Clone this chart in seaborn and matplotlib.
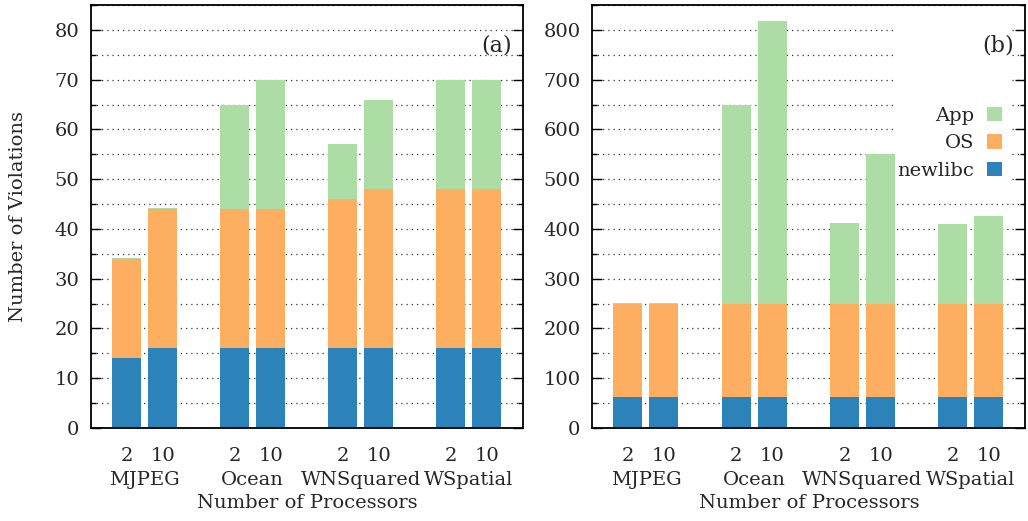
import numpy as np
import pandas as pd
import matplotlib
matplotlib.use("Agg")
import matplotlib.pyplot as plt
import matplotlib.transforms as mtransforms
from matplotlib.patches import Patch, Rectangle
from matplotlib.ticker import MultipleLocator
import seaborn as sns

# ---------------- data ----------------
benchmarks = ["MJPEG", "Ocean", "WNSquared", "WSpatial"]
procs = ["2", "10"]
series = ["newlibc", "OS", "App"]
colors = {"newlibc": "#2b83ba", "OS": "#fdae61", "App": "#abdda4"}

# panel (a): one value per bar (benchmark x processors, in order)
a_newlibc = [14, 16, 16, 16, 16, 16, 16, 16]
a_os = [20, 28, 28, 28, 30, 32, 32, 32]
a_app = [0.2, 0.2, 21, 26, 11, 18, 22, 22]

# panel (b)
b_newlibc = [62, 62, 62, 62, 62, 62, 62, 62]
b_os = [188, 188, 188, 188, 188, 188, 188, 188]
b_app = [2, 2, 400, 567, 162, 301, 160, 177]

# ---------------- style ----------------
sns.set_style("white")
plt.rcParams["font.family"] = ["DejaVu Serif"]
FS = 14
plt.rcParams["font.size"] = FS

fig = plt.figure(figsize=(10.28, 5.21), dpi=100)
W, H = 1028, 521
ax_a = fig.add_axes([90.7 / W, 1 - 428 / H, 432 / W, 423 / H])
ax_b = fig.add_axes([591.7 / W, 1 - 428 / H, 433.3 / W, 423 / H])


def panel(ax, nl, os_, app, ymax, major, minor, tag):
    pos = [3 * g + k for g in range(len(benchmarks)) for k in range(len(procs))]
    df = pd.DataFrame({"pos": pos, "newlibc": nl, "OS": os_, "App": app})
    df["c_nl"] = df["newlibc"]
    df["c_os"] = df["newlibc"] + df["OS"]
    df["c_app"] = df["c_os"] + df["App"]
    for col, s in [("c_app", "App"), ("c_os", "OS"), ("c_nl", "newlibc")]:
        sns.barplot(data=df, x="pos", y=col, native_scale=True, width=0.8,
                    color=colors[s], saturation=1, errorbar=None, ax=ax,
                    linewidth=0, zorder=2)
    ax.set_xlim(-1, 11)
    ax.set_ylim(0, ymax)
    ax.set_xticks(pos)
    ax.set_xticklabels([procs[k] for g in range(len(benchmarks)) for k in range(len(procs))])
    ax.yaxis.set_major_locator(MultipleLocator(major))
    ax.yaxis.set_minor_locator(MultipleLocator(minor))
    ax.set_axisbelow(True)
    ax.grid(which="both", axis="y", linestyle=(0, (1, 3.2)), color="#333333", lw=0.9)
    ax.grid(which="both", axis="x", visible=False)
    ax.tick_params(axis="y", which="major", direction="in", left=True, right=True,
                   length=7, width=1, labelsize=FS, pad=8, color="black")
    ax.tick_params(axis="y", which="minor", direction="in", left=True, right=True,
                   length=3.5, width=1, color="black")
    ax.tick_params(axis="x", length=0, labelsize=FS, pad=14)
    for sp in ax.spines.values():
        sp.set_visible(True)
        sp.set_color("black")
        sp.set_linewidth(1.3)
    trans = mtransforms.blended_transform_factory(ax.transData, ax.transAxes)
    for g, name in enumerate(benchmarks):
        ax.text(3 * g + 0.5, -0.123, name, transform=trans, ha="center", va="center",
                fontsize=FS)
    ax.set_xlabel("Number of Processors", fontsize=FS)
    ax.xaxis.set_label_coords(0.502, -0.177)
    ax.xaxis.label.set_va("center")
    ax.set_ylabel("")
    ax.text(0.975, 0.905, tag, transform=ax.transAxes, ha="right", va="center",
            fontsize=FS + 2)


panel(ax_a, a_newlibc, a_os, a_app, 85, 10, 5, "(a)")
panel(ax_b, b_newlibc, b_os, b_app, 850, 100, 50, "(b)")
ax_a.set_ylabel("Number of Violations", fontsize=FS)
ax_a.yaxis.set_label_coords(-0.168, 0.499)
ax_a.yaxis.label.set_va("center")

# opaque key area in panel (b)
ax_b.add_patch(Rectangle((0.695, 0.574), 0.275, 0.379, transform=ax_b.transAxes,
                         facecolor="white", edgecolor="none", zorder=1))
handles = [Patch(facecolor=colors[s], edgecolor="none", label=s) for s in ["App", "OS", "newlibc"]]
leg = ax_b.legend(handles=handles, loc="upper right", bbox_to_anchor=(0.947, 0.760),
                  frameon=False, markerfirst=False, fontsize=FS, handlelength=0.75,
                  handleheight=0.75, handletextpad=0.7, labelspacing=0.5,
                  borderpad=0, borderaxespad=0)
leg.set_zorder(5)

fig.savefig("out.png", dpi=100)
